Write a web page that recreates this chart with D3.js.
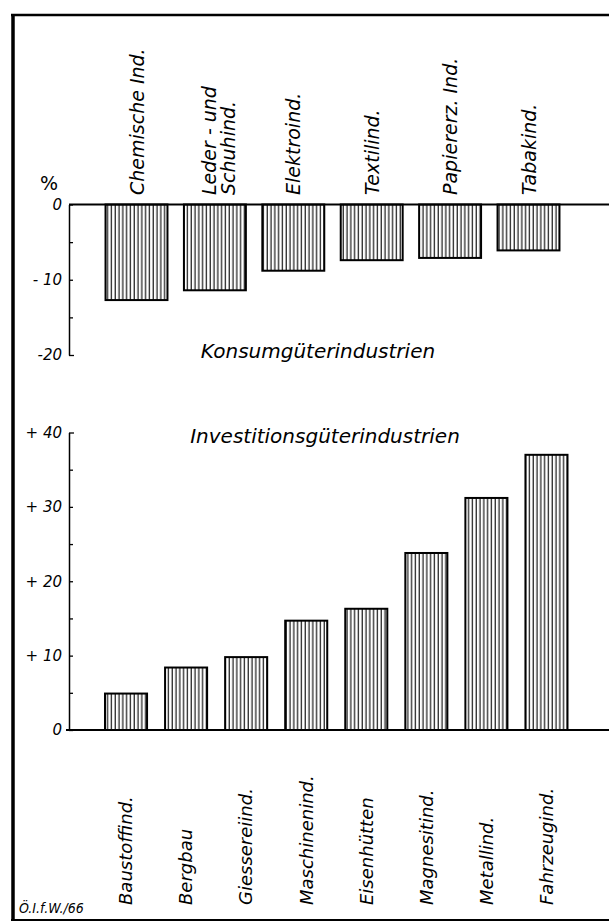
<!DOCTYPE html>
<html>

<head>
  <meta charset='utf-8'>
  <script src='https://d3js.org/d3.v7.min.js'></script>

  <style>
    body {
      margin: 0;
      background: white;
    }

    text {
      font-family: 'DejaVu Sans', sans-serif;
      font-style: italic;
      fill: black;
    }
  </style>
</head>

<body>
  <script type='text/javascript'>
    /*
      values (percent change)
    */
    var consumerCats = ['Chemische Ind.', 'Leder - und|Schuhind.', 'Elektroind.', 'Textilind.', 'Papiererz. Ind.', 'Tabakind.'];
    var consumerVals = [-12.7, -11.4, -8.8, -7.4, -7.1, -6.1];
    var consumerTicks = [0, -5, -10, -15, -20];
    var consumerTickLabels = {'0': '0', '-10': '- 10', '-20': '-20'};

    var capitalCats = ['Baustoffind.', 'Bergbau', 'Giessereiind.', 'Maschinenind.', 'Eisenhütten', 'Magnesitind.', 'Metallind.', 'Fahrzeugind.'];
    var capitalVals = [4.9, 8.4, 9.8, 14.7, 16.3, 23.8, 31.2, 37.0];
    var capitalTicks = [0, 5, 10, 15, 20, 25, 30, 35, 40];
    var capitalTickLabels = {'0': '0', '10': '+ 10', '20': '+ 20', '30': '+ 30', '40': '+ 40'};

    function draw() {
      'use strict';
      var width = 609,
        height = 924,
        axisX = 69;

      var svg = d3.select('body')
        .append('svg')
        .attr('width', width)
        .attr('height', height);

      // vertical hatching used by every bar
      var pattern = svg.append('defs')
        .append('pattern')
        .attr('id', 'hatch')
        .attr('patternUnits', 'userSpaceOnUse')
        .attr('width', 3.8)
        .attr('height', 10);
      pattern.append('rect')
        .attr('width', 3.8)
        .attr('height', 10)
        .attr('fill', 'white');
      pattern.append('line')
        .attr('x1', 1.2).attr('x2', 1.2)
        .attr('y1', 0).attr('y2', 10)
        .attr('stroke', 'black')
        .attr('stroke-width', 1.1);

      /*
        frame
      */
      svg.append('line')
        .attr('x1', 11).attr('x2', width)
        .attr('y1', 15).attr('y2', 15)
        .attr('stroke', 'black').attr('stroke-width', 2.5);
      svg.append('line')
        .attr('x1', 11).attr('x2', width)
        .attr('y1', 920).attr('y2', 920)
        .attr('stroke', 'black').attr('stroke-width', 2);
      svg.append('line')
        .attr('x1', 13).attr('x2', 13)
        .attr('y1', 14).attr('y2', 921)
        .attr('stroke', 'black').attr('stroke-width', 3.5);

      /*
        upper chart: Konsumgüterindustrien
      */
      var x1 = d3.scaleBand()
        .domain(consumerCats)
        .range([97.3, 567.7])
        .paddingInner(0.21)
        .paddingOuter(0.105);
      var y1 = d3.scaleLinear()
        .domain([-20, 0])
        .range([355, 204.5]);

      var top = svg.append('g').attr('class', 'consumer');

      top.selectAll('rect')
        .data(consumerVals)
        .enter()
        .append('rect')
        .attr('x', function(d, i) { return x1(consumerCats[i]); })
        .attr('y', y1(0))
        .attr('width', x1.bandwidth())
        .attr('height', function(d) { return y1(d) - y1(0); })
        .attr('fill', 'url(#hatch)')
        .attr('stroke', 'black')
        .attr('stroke-width', 2);

      var yAxis1 = top.append('g')
        .attr('transform', 'translate(' + axisX + ',0)')
        .call(d3.axisLeft(y1)
          .tickValues(consumerTicks)
          .tickSizeInner(-4)
          .tickSizeOuter(0)
          .tickPadding(7)
          .tickFormat(function(d) { return consumerTickLabels[d] || ''; }));
      yAxis1.select('.domain').attr('stroke-width', 1.5);
      yAxis1.selectAll('.tick line').attr('stroke-width', 1.3);
      yAxis1.select('.tick:last-of-type line').attr('x2', 5);
      yAxis1.selectAll('text')
        .style('font-size', '15px')
        .style('font-family', 'DejaVu Sans, sans-serif');

      // zero line
      top.append('line')
        .attr('x1', axisX).attr('x2', width)
        .attr('y1', y1(0)).attr('y2', y1(0))
        .attr('stroke', 'black').attr('stroke-width', 2);

      top.append('text')
        .attr('x', 49)
        .attr('y', 190)
        .attr('text-anchor', 'middle')
        .style('font-size', '19px')
        .style('font-style', 'normal')
        .text('%');

      // rotated category labels above the bars
      top.selectAll('.cat')
        .data(consumerCats)
        .enter()
        .append('text')
        .attr('class', 'cat')
        .attr('transform', function(d) {
          return 'translate(' + (x1(d) + x1.bandwidth() / 2) + ',195) rotate(-90)';
        })
        .style('font-size', '19px')
        .each(function(d) {
          var lines = d.split('|');
          var t = d3.select(this);
          lines.forEach(function(s, i) {
            t.append('tspan')
              .attr('x', 0)
              .attr('y', (i - (lines.length - 1) / 2) * 19 + 7 + (lines.length > 1 ? 4 : 0))
              .text(s);
          });
        });

      top.append('text')
        .attr('x', 318)
        .attr('y', 358)
        .attr('text-anchor', 'middle')
        .style('font-size', '20px')
        .text('Konsumgüterindustrien');

      /*
        lower chart: Investitionsgüterindustrien
      */
      var x2 = d3.scaleBand()
        .domain(capitalCats)
        .range([96, 576.5])
        .paddingInner(0.3)
        .paddingOuter(0.15);
      var y2 = d3.scaleLinear()
        .domain([0, 40])
        .range([730, 432.5]);

      var bottom = svg.append('g').attr('class', 'capital');

      bottom.selectAll('rect')
        .data(capitalVals)
        .enter()
        .append('rect')
        .attr('x', function(d, i) { return x2(capitalCats[i]); })
        .attr('y', function(d) { return y2(d); })
        .attr('width', x2.bandwidth())
        .attr('height', function(d) { return y2(0) - y2(d); })
        .attr('fill', 'url(#hatch)')
        .attr('stroke', 'black')
        .attr('stroke-width', 2);

      var yAxis2 = bottom.append('g')
        .attr('transform', 'translate(' + axisX + ',0)')
        .call(d3.axisLeft(y2)
          .tickValues(capitalTicks)
          .tickSizeInner(-4)
          .tickSizeOuter(0)
          .tickPadding(7)
          .tickFormat(function(d) { return capitalTickLabels[d] || ''; }));
      yAxis2.select('.domain').attr('stroke-width', 1.5);
      yAxis2.selectAll('.tick line').attr('stroke-width', 1.3);
      yAxis2.select('.tick:last-of-type line').attr('x2', 5);
      yAxis2.selectAll('text')
        .style('font-size', '15px')
        .style('font-family', 'DejaVu Sans, sans-serif');

      bottom.append('line')
        .attr('x1', axisX - 3).attr('x2', width)
        .attr('y1', y2(0)).attr('y2', y2(0))
        .attr('stroke', 'black').attr('stroke-width', 2);

      bottom.append('text')
        .attr('x', 325)
        .attr('y', 443)
        .attr('text-anchor', 'middle')
        .style('font-size', '20px')
        .text('Investitionsgüterindustrien');

      bottom.selectAll('.cat')
        .data(capitalCats)
        .enter()
        .append('text')
        .attr('class', 'cat')
        .attr('transform', function(d) {
          return 'translate(' + (x2(d) + x2.bandwidth() / 2) + ',905) rotate(-90)';
        })
        .attr('dy', '0.35em')
        .style('font-size', '18px')
        .text(function(d) { return d; });

      // source mark, bottom left
      svg.append('text')
        .attr('x', 19)
        .attr('y', 913)
        .style('font-family', "'Liberation Sans Narrow', 'DejaVu Sans Condensed', sans-serif")
        .style('font-size', '14px')
        .text('Ö.I.f.W./66');
    }

    draw();
  </script>
</body>

</html>
